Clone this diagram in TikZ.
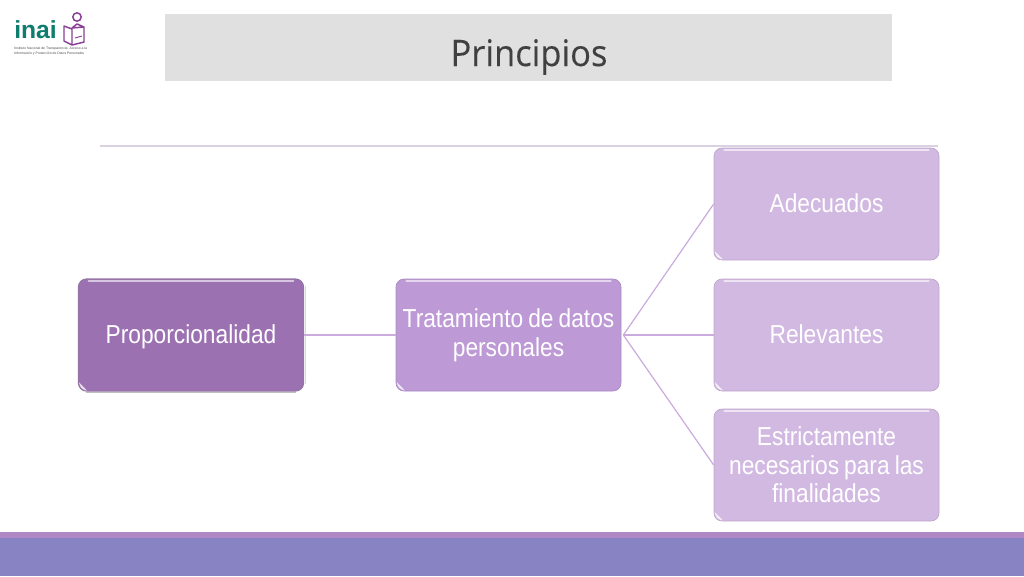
\documentclass[tikz,border=0pt]{standalone}
\usepackage{fontspec}
\setmainfont{Liberation Sans}
\newfontfamily\narrowfont[FakeStretch=0.875,WordSpace=0.8]{Liberation Sans}
\newfontfamily\titlefont[FakeStretch=0.94,FakeBold=0.15]{Open Sans}
\definecolor{darkbox}{HTML}{9C71B2}
\definecolor{midbox}{HTML}{BD9AD6}
\definecolor{lightbox}{HTML}{D2B9E2}
\definecolor{linkc}{HTML}{C9ABDD}
\definecolor{rulec}{HTML}{DAD2E0}
\definecolor{bandtop}{HTML}{B088C4}
\definecolor{bandlow}{HTML}{8884C4}
\definecolor{inaigreen}{HTML}{0E7C6E}
\definecolor{inaipurple}{HTML}{8A3F96}
\tikzset{
  x=0.75pt,y=-0.75pt,
  boxbase/.style={rounded corners=6pt,minimum width=168.75pt,minimum height=84pt,inner sep=1pt,
    align=center,text=white,font=\narrowfont\fontsize{19.5pt}{21.5pt}\selectfont},
  boxdark/.style={boxbase,fill=darkbox,draw=darkbox!70!gray,line width=0.9pt},
  boxmid/.style={boxbase,fill=midbox,draw=midbox!90!black,line width=0.5pt},
  boxlight/.style={boxbase,fill=lightbox,draw=lightbox!90!black,line width=0.5pt},
  link/.style={draw=linkc,line width=0.9pt},
  gloss/.style={draw=white,opacity=0.6,line width=1.6pt,line cap=round},
}
\newcommand{\glossof}[1]{%
  \draw[gloss] ([xshift=8pt,yshift=-2pt]#1.north west) -- ([xshift=-8pt,yshift=-2pt]#1.north east);
  \fill[white,opacity=0.75] ([xshift=0.8pt,yshift=7pt]#1.south west) .. controls ([xshift=1.5pt,yshift=3pt]#1.south west) and ([xshift=3pt,yshift=1.5pt]#1.south west) .. ([xshift=7pt,yshift=0.6pt]#1.south west) -- cycle;
}
\begin{document}
\begin{tikzpicture}
\useasboundingbox (0,0) rectangle (1024,576);
% title band
\fill[fill=black!12] (165,14) rectangle (892,81);
\node[font=\titlefont\fontsize{27.5pt}{30pt}\selectfont,text=black!75,inner sep=0pt] (title) at (529,57) {Principios};
% rule
\draw[draw=rulec,line width=1pt] (100,146) -- (938,146);
% footer
\fill[bandtop] (0,532) rectangle (1024,538);
\fill[bandlow] (0,538) rectangle (1024,576);
% logo
\node[font=\fontsize{18.5pt}{18.5pt}\bfseries\selectfont,text=inaigreen,inner sep=0pt,anchor=base west] (inai) at (14,38.5) {inai};
\draw[inaipurple,line width=1.1pt] (77,17) circle (4.2);
\draw[inaipurple,line width=1.1pt,line join=round] (72,28) -- (77,24) -- (84,27) -- (84,42) -- (72,45) -- cycle (72,28) -- (84,27) (72,29) -- (64,26) -- (64,41) -- (72,45);
\draw[inaipurple,line width=0.7pt] (75,38) -- (82,36);
\node[font=\fontsize{2.55pt}{3.9pt}\selectfont,text=black!70,inner sep=0pt,anchor=north west,align=left] (inaitext) at (14,46.5) {Instituto Nacional de Transparencia, Acceso a la\\Información y Protección de Datos Personales};
% boxes
\node[boxdark] (prop) at (191,335) {\rule{0pt}{17pt}Proporcionalidad};
\node[boxmid] (trat) at (508.5,335) {Tratamiento de datos\\personales};
\node[boxlight] (adec) at (826.5,204) {\rule[-1.5pt]{0pt}{1pt}Adecuados};
\node[boxlight] (rele) at (826.5,335) {\rule[-1.5pt]{0pt}{1pt}Relevantes};
\node[boxlight] (estr) at (826.5,465) {Estrictamente\\necesarios para las\\finalidades};
\draw[draw=white!70!gray,line width=0.8pt] ([xshift=1.2pt,yshift=-6pt]prop.north east) -- ([xshift=1.2pt,yshift=6pt]prop.south east);
\draw[draw=black!25,line width=0.8pt] ([xshift=6pt,yshift=-1pt]prop.south west) -- ([xshift=-6pt,yshift=-1pt]prop.south east);
% connectors
\draw[link] (prop.east) -- (trat.west);
\coordinate (fan) at ([xshift=1.5pt]trat.east);
\draw[link] (fan) -- (adec.west);
\draw[link] (fan) -- (rele.west);
\draw[link] (fan) -- (estr.west);
\glossof{prop}\glossof{trat}\glossof{adec}\glossof{rele}\glossof{estr}
\end{tikzpicture}
\end{document}
